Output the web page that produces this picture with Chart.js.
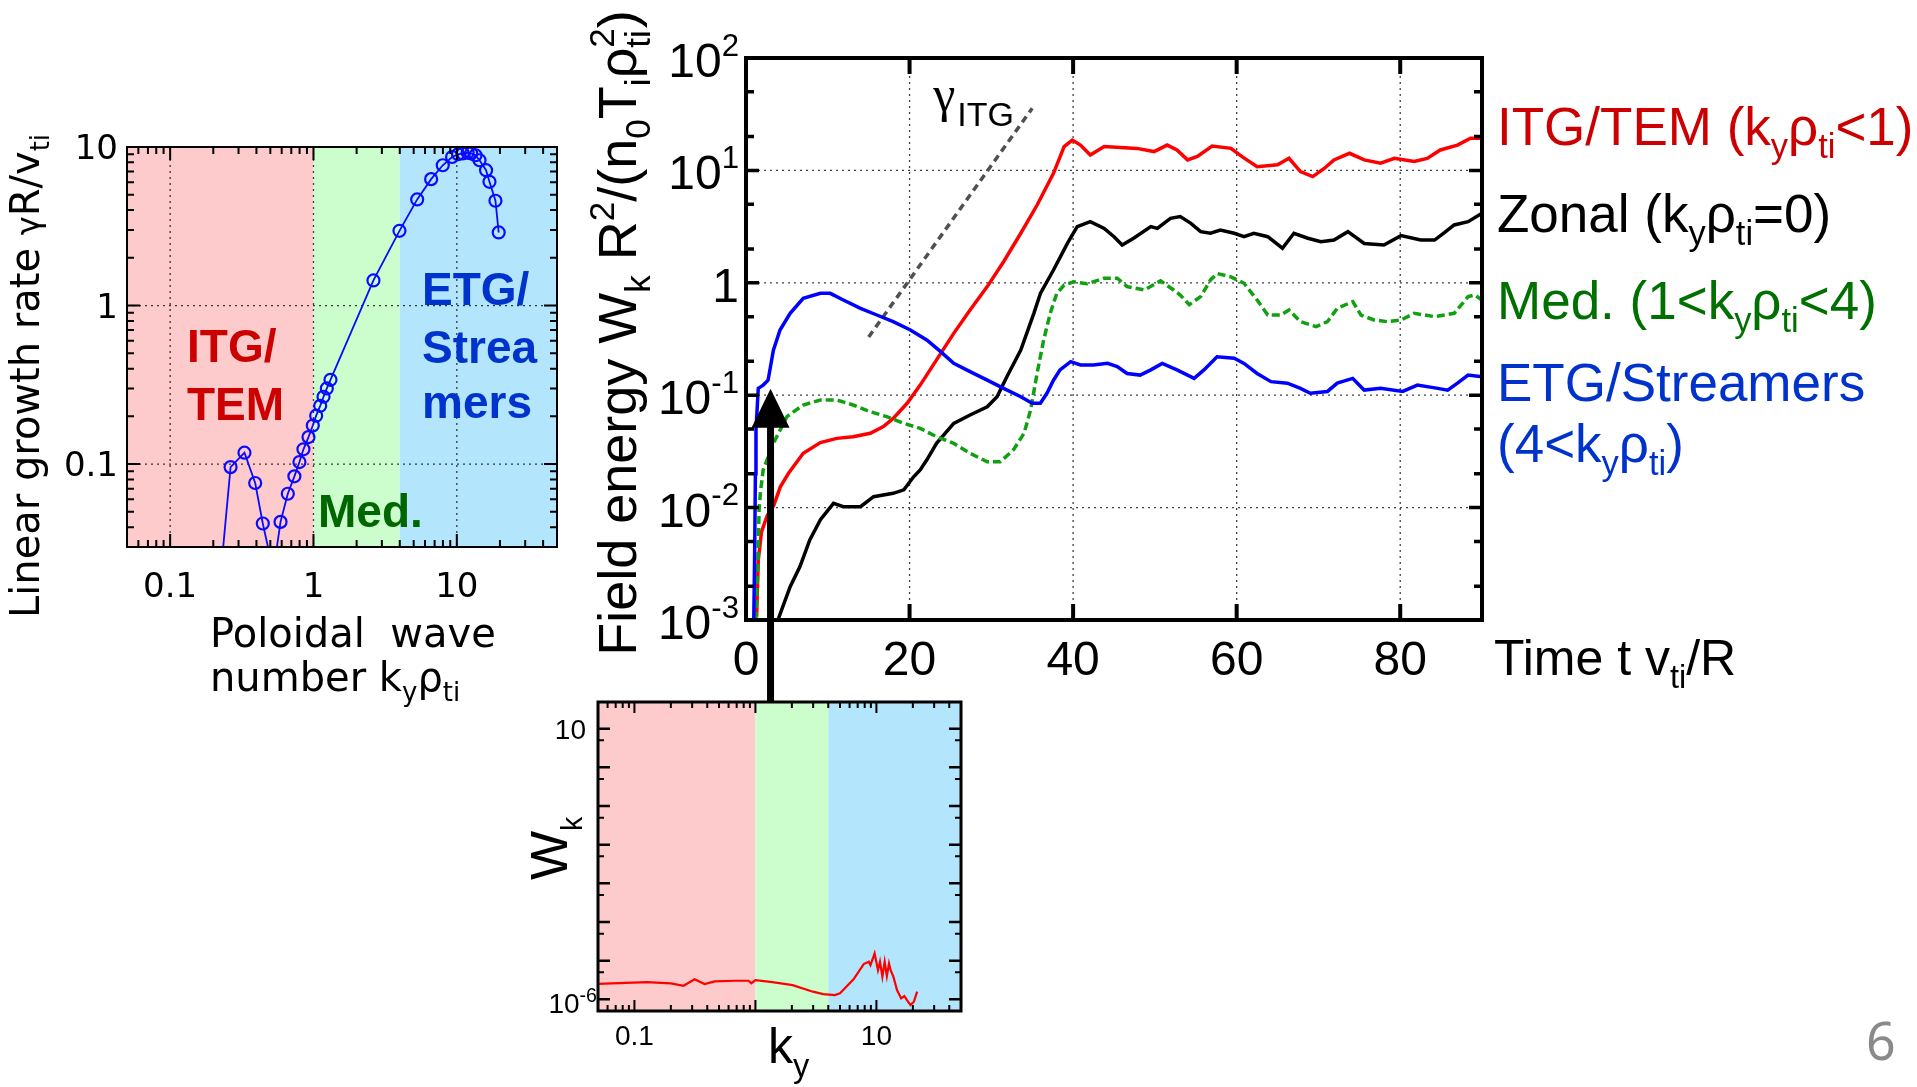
<!DOCTYPE html>
<html>
<head>
<meta charset="utf-8">
<title>Field energy and growth rate spectra</title>
<script src="https://cdn.jsdelivr.net/npm/chart.js@4.4.1/dist/chart.umd.min.js"></script>
<style>
  html, body { margin: 0; padding: 0; background: #fff; }
  body { position: relative; width: 1917px; height: 1087px; overflow: hidden; }
  canvas { position: absolute; }
  #growth { left: 0; top: 90px; }
  #spectrum { left: 500px; top: 690px; }
  #energy { left: 570px; top: 0; }
  #pageNo { position: absolute; left: 1866px; top: 1014px; font: 52px "Noto Sans"; line-height: 52px; color: #8a8a8a; }
</style>
</head>
<body>
<canvas id="growth" width="600" height="640"></canvas>
<canvas id="spectrum" width="500" height="397"></canvas>
<canvas id="energy" width="1347" height="720"></canvas>
<div id="pageNo">6</div>
<script>
// ---- data ----

// left panel: linear growth rate vs k_y rho_ti
const growthKy = [0.225, 0.264, 0.330, 0.392, 0.443, 0.525, 0.589, 0.662, 0.736, 0.798,
  0.851, 0.923, 0.989, 1.044, 1.114, 1.175, 1.239, 1.314, 2.62, 3.98,
  5.29, 6.62, 7.98, 9.27, 10.2, 11.0, 11.9, 12.6, 13.5, 14.4,
  16.0, 16.9, 18.6, 19.6];
const growthRate = [0.020, 0.0957, 0.118, 0.076, 0.0422, 0.021, 0.0432, 0.065, 0.0837, 0.103,
  0.124, 0.148, 0.175, 0.202, 0.233, 0.266, 0.300, 0.340, 1.44, 2.96,
  4.67, 6.27, 7.67, 8.65, 9.0, 9.1, 9.2, 9.1, 8.87, 8.25,
  7.14, 6.03, 4.58, 2.89];

// regime boundaries in k_y rho_ti (ITG/TEM | Med. | ETG/Streamers)
const regimeEdges = [0.05, 1, 4, 50];

// main panel: field energy vs time, [t v_ti/R, W_k]
const itgTem = [[1.3, 0.00107], [1.5, 0.0034], [1.9, 0.0061], [2.6, 0.0085], [3.4, 0.0105], [4.2, 0.0153],
  [5.2, 0.0202], [7.0, 0.0304], [9.1, 0.0379], [11.1, 0.0413], [13.1, 0.0427], [15.2, 0.0458],
  [16.8, 0.0525], [18.0, 0.0622], [19.7, 0.0847], [21.3, 0.123], [23.3, 0.206], [25.4, 0.355],
  [27.4, 0.573], [29.5, 0.925], [31.5, 1.54], [33.6, 2.76], [35.6, 4.92], [37.6, 9.42],
  [38.9, 16.3], [39.9, 18.6], [40.9, 16.8], [42.1, 13.7], [43.8, 16.3], [45.8, 16.0],
  [47.8, 15.7], [49.9, 14.7], [51.5, 16.8], [52.7, 15.2], [54.0, 12.4], [55.2, 13.3],
  [57.0, 16.5], [59.3, 15.7], [60.7, 13.2], [62.5, 10.8], [65.0, 11.2], [66.4, 12.8],
  [67.8, 9.75], [69.3, 8.8], [70.7, 10.4], [71.9, 12.4], [73.8, 14.2], [75.6, 12.4],
  [77.6, 11.6], [79.3, 12.8], [81.7, 12.0], [83.3, 12.8], [84.9, 15.2], [87.0, 16.8],
  [88.6, 19.3], [90, 19.3]];
const zonal = [[3.9, 0.001], [5.4, 0.00198], [6.6, 0.00299], [7.8, 0.00515], [9.1, 0.0078], [10.7, 0.0109],
  [11.9, 0.0102], [14.0, 0.0102], [15.6, 0.0125], [18.0, 0.0134], [19.3, 0.0144], [20.5, 0.0188],
  [21.3, 0.0216], [22.1, 0.0265], [23.3, 0.0373], [25.4, 0.0562], [27.4, 0.0667], [29.5, 0.079],
  [30.7, 0.097], [31.9, 0.146], [33.6, 0.252], [35.2, 0.535], [36.0, 0.805], [37.6, 1.30],
  [39.3, 2.24], [40.5, 3.16], [42.1, 3.5], [43.8, 3.05], [45.0, 2.57], [46.0, 2.17],
  [47.4, 2.49], [49.5, 3.16], [50.3, 3.05], [51.9, 3.75], [53.1, 3.88], [54.4, 3.38],
  [55.6, 2.85], [56.8, 2.76], [58.0, 2.95], [59.7, 2.76], [60.9, 2.57], [62.1, 2.76],
  [63.8, 2.57], [65.6, 2.03], [67.0, 2.76], [68.7, 2.49], [70.3, 2.32], [71.9, 2.40],
  [73.6, 2.85], [75.6, 2.24], [78.0, 2.17], [80.1, 2.63], [82.5, 2.40], [84.2, 2.40],
  [85.4, 2.79], [86.6, 3.27], [88.3, 3.5], [90, 4.15]];
const medium = [[1.2, 0.001], [1.45, 0.003], [1.6, 0.0095], [1.75, 0.0134], [2.1, 0.0216], [3.35, 0.0373],
  [5.0, 0.0645], [7.0, 0.0818], [9.1, 0.0906], [11.1, 0.0906], [13.1, 0.0818], [15.2, 0.0713],
  [17.2, 0.0645], [19.3, 0.0562], [21.3, 0.0507], [23.3, 0.0427], [25.4, 0.0373], [27.4, 0.0304],
  [29.5, 0.0256], [31.1, 0.0256], [32.7, 0.0326], [34.0, 0.0458], [34.8, 0.0738], [35.6, 0.157],
  [36.4, 0.31], [37.2, 0.535], [38.0, 0.805], [38.9, 0.955], [40.1, 1.02], [41.7, 0.98],
  [43.8, 1.10], [45.4, 1.10], [46.6, 0.925], [48.7, 0.863], [50.7, 1.04], [52.3, 0.863],
  [53.1, 0.778], [54.2, 0.64], [55.6, 0.753], [56.8, 1.06], [57.6, 1.21], [59.3, 1.13],
  [60.9, 0.99], [62.5, 0.703], [63.8, 0.516], [65.4, 0.516], [66.4, 0.573], [67.8, 0.451],
  [69.7, 0.407], [71.1, 0.451], [72.3, 0.593], [74.2, 0.68], [75.2, 0.516], [76.8, 0.467],
  [78.4, 0.451], [80.1, 0.467], [81.7, 0.535], [84.2, 0.5], [86.6, 0.535], [88.3, 0.753],
  [89.1, 0.78], [90, 0.703]];
const etgStreamers = [[0.95, 0.001], [1.05, 0.0034], [1.15, 0.02], [1.22, 0.049], [1.5, 0.115], [2.1, 0.123],
  [2.7, 0.136], [3.35, 0.252], [4.16, 0.38], [5.4, 0.535], [7.0, 0.728], [9.1, 0.806],
  [10.3, 0.806], [11.9, 0.703], [14.0, 0.593], [16.0, 0.517], [18.0, 0.451], [20.1, 0.38],
  [22.1, 0.31], [23.8, 0.244], [25.4, 0.192], [27.4, 0.162], [29.5, 0.136], [31.5, 0.115],
  [33.6, 0.097], [35.0, 0.0847], [36.0, 0.0847], [36.8, 0.104], [37.6, 0.136], [38.4, 0.168],
  [39.7, 0.199], [40.9, 0.186], [42.5, 0.186], [44.2, 0.192], [45.4, 0.18], [46.6, 0.156],
  [48.2, 0.151], [49.5, 0.168], [50.9, 0.192], [52.7, 0.168], [54.8, 0.141], [56.0, 0.168],
  [57.6, 0.22], [59.7, 0.213], [60.9, 0.192], [62.5, 0.156], [64.2, 0.132], [66.2, 0.128],
  [67.8, 0.115], [69.0, 0.104], [71.1, 0.108], [72.3, 0.128], [74.2, 0.141], [75.6, 0.111],
  [77.6, 0.115], [80.3, 0.108], [82.1, 0.123], [84.6, 0.115], [85.8, 0.111], [87.0, 0.128],
  [88.3, 0.151], [90, 0.146]];
// ITG growth-rate guide line
const itgSlope = [[15, 0.33], [35, 35.7]];

// bottom panel: W_k spectrum vs k_y at early time
const earlySpectrum = [[0.048, 2.49e-6], [0.127, 2.8e-6], [0.2, 2.59e-6], [0.255, 2.25e-6], [0.314, 3.29e-6],
  [0.38, 2.49e-6], [0.461, 2.92e-6], [0.679, 3.03e-6], [0.879, 3.03e-6], [0.925, 2.59e-6],
  [1.0, 3.16e-6], [1.38, 2.8e-6], [2.03, 2.34e-6], [2.99, 1.58e-6], [3.63, 1.37e-6],
  [4.54, 1.29e-6], [5.0, 1.43e-6], [6.47, 3.29e-6], [7.85, 8.19e-6], [8.65, 9.4e-6],
  [8.93, 7.7e-6], [9.66, 1.55e-5], [10.3, 5.7e-6], [10.7, 9.4e-6], [11.2, 3.86e-6],
  [11.7, 9.4e-6], [12.2, 4.0e-6], [12.7, 8.5e-6], [13.1, 5.7e-6], [13.8, 3.86e-6],
  [14.8, 1.74e-6], [16.0, 1.06e-6], [17.0, 1.22e-6], [19.1, 7.1e-7], [20.4, 8.7e-7], [21.7, 1.58e-6]];

// ---- styling ----
const SANS = '"Liberation Sans", Arial, sans-serif';
const WIDE = '"DejaVu Sans", Verdana, sans-serif';
const SERIF = '"Liberation Serif", serif';
const regimeFill = ['#fdcbcb', '#ccfdcc', '#b3e5fd'];
const RED_TXT = '#cc0000', BLUE_TXT = '#0033cc', GREEN_TXT = '#007000';

const pts = arr => arr.map(p => ({ x: p[0], y: p[1] }));

// text with sub/superscripts; parts: 'text' or [text, 'b'|'bs'|'p'|'s']
function rich(ctx, parts, x, y, o) {
  const size = o.size, fam = o.family || SANS, wt = o.weight || 'normal';
  const small = size * (o.script || 0.65);
  const items = parts.map(p => Array.isArray(p) ? { t: p[0], k: p[1] } : { t: p, k: '' });
  items.forEach(it => {
    it.s = it.k === 's' ? size * 0.8 : it.k ? small : size;
    ctx.font = `${wt} ${it.s}px ${fam}`;
    it.m = ctx.measureText(it.t).width;
    it.adv = it.m;
  });
  items.forEach((it, i) => {
    if (it.k === 'bs' && items[i + 1]) { it.adv = 0; items[i + 1].adv = Math.max(items[i + 1].m, it.m); }
  });
  const total = items.reduce((s, it) => s + it.adv, 0);
  let cx = o.align === 'center' ? -total / 2 : o.align === 'right' ? -total : 0;
  ctx.save();
  ctx.translate(x, y);
  if (o.angle) ctx.rotate(o.angle);
  ctx.fillStyle = o.color || '#000';
  ctx.textAlign = 'left';
  ctx.textBaseline = 'alphabetic';
  items.forEach(it => {
    ctx.font = `${wt} ${it.s}px ${fam}`;
    let dy = 0;
    if (it.k === 'b' || it.k === 'bs') dy = size * (o.sub || 0.25);
    if (it.k === 'p') dy = -size * (o.sup || 0.4);
    ctx.fillText(it.t, cx, dy);
    cx += it.adv;
  });
  ctx.restore();
}

function logValues(min, max, mults) {
  const out = [];
  for (let e = Math.floor(Math.log10(min)); e <= Math.ceil(Math.log10(max)); e++) {
    mults.forEach(m => {
      const v = m * Math.pow(10, e);
      if (v >= min * 1.0001 && v <= max * 0.9999) out.push(v);
    });
  }
  return out;
}

function dottedGrid(ctx, a, xs, ys, lw, dash, color) {
  ctx.save();
  ctx.strokeStyle = color || 'rgba(0,0,0,0.75)';
  ctx.lineWidth = lw;
  ctx.setLineDash(dash);
  ctx.beginPath();
  xs.forEach(px => { ctx.moveTo(px, a.top); ctx.lineTo(px, a.bottom); });
  ys.forEach(py => { ctx.moveTo(a.left, py); ctx.lineTo(a.right, py); });
  ctx.stroke();
  ctx.restore();
}

function ticksX(ctx, a, pxs, len, lw) {
  ctx.lineWidth = lw;
  ctx.beginPath();
  pxs.forEach(px => {
    ctx.moveTo(px, a.bottom); ctx.lineTo(px, a.bottom - len);
    ctx.moveTo(px, a.top); ctx.lineTo(px, a.top + len);
  });
  ctx.stroke();
}

function ticksY(ctx, a, pys, len, lw) {
  ctx.lineWidth = lw;
  ctx.beginPath();
  pys.forEach(py => {
    ctx.moveTo(a.left, py); ctx.lineTo(a.left + len, py);
    ctx.moveTo(a.right, py); ctx.lineTo(a.right - len, py);
  });
  ctx.stroke();
}

function regimeBands(ctx, a, x) {
  regimeFill.forEach((c, i) => {
    const x0 = x.getPixelForValue(regimeEdges[i]);
    const x1 = x.getPixelForValue(regimeEdges[i + 1]);
    ctx.fillStyle = c;
    ctx.fillRect(x0, a.top, x1 - x0, a.bottom - a.top);
  });
}

const baseOptions = {
  responsive: false,
  animation: false,
  events: [],
  plugins: { legend: { display: false }, tooltip: { enabled: false } }
};

// ---- left panel: growth rate ----
const growthFrame = {
  id: 'growthFrame',
  beforeDatasetsDraw(chart) {
    const { ctx, chartArea: a, scales: { x, y } } = chart;
    ctx.save();
    regimeBands(ctx, a, x);
    dottedGrid(ctx, a, [0.1, 1, 10].map(v => x.getPixelForValue(v)), [0.1, 1].map(v => y.getPixelForValue(v)), 1.3, [2, 4]);
    const big = { size: 46, weight: 'bold', family: SANS };
    rich(ctx, ['ITG/'], a.left + 60, a.top + 215, { ...big, color: RED_TXT });
    rich(ctx, ['TEM'], a.left + 60, a.top + 273, { ...big, color: RED_TXT });
    rich(ctx, ['ETG/'], a.left + 295, a.top + 158, { ...big, color: BLUE_TXT });
    rich(ctx, ['Strea'], a.left + 295, a.top + 216, { ...big, color: BLUE_TXT });
    rich(ctx, ['mers'], a.left + 295, a.top + 271, { ...big, color: BLUE_TXT });
    rich(ctx, ['Med.'], a.left + 191, a.top + 380, { ...big, color: '#006600' });
    ctx.restore();
  },
  afterDatasetsDraw(chart) {
    const { ctx, chartArea: a, scales: { x, y } } = chart;
    ctx.save();
    ctx.strokeStyle = '#000';
    ticksX(ctx, a, logValues(0.05, 50, [2, 3, 4, 5, 6, 7, 8, 9]).map(v => x.getPixelForValue(v)), 7, 2);
    ticksX(ctx, a, [0.1, 1, 10].map(v => x.getPixelForValue(v)), 13, 2);
    ticksY(ctx, a, logValues(0.03, 10, [2, 3, 4, 5, 6, 7, 8, 9]).map(v => y.getPixelForValue(v)), 7, 2);
    ticksY(ctx, a, [0.1, 1].map(v => y.getPixelForValue(v)), 13, 2);
    ctx.lineWidth = 2;
    ctx.strokeRect(a.left, a.top, a.right - a.left, a.bottom - a.top);
    ['0.1', '1', '10'].forEach(s => {
      rich(ctx, [s], x.getPixelForValue(Number(s)), a.bottom + 50, { size: 34, family: WIDE, align: 'center' });
    });
    ['0.1', '1', '10'].forEach(s => {
      rich(ctx, [s], a.left - 9, y.getPixelForValue(Number(s)) + 12, { size: 34, family: WIDE, align: 'right' });
    });
    rich(ctx, ['Linear growth rate ', ['γ', 's'], 'R/v', ['ti', 'b']], a.left - 88, 286,
      { size: 40, family: WIDE, align: 'center', angle: -Math.PI / 2 });
    rich(ctx, ['Poloidal  wave'], a.left + 83, a.bottom + 100, { size: 40, family: WIDE });
    rich(ctx, ['number k', ['y', 'b'], 'ρ', ['ti', 'b']], a.left + 83, a.bottom + 144, { size: 40, family: WIDE });
    ctx.restore();
  }
};

new Chart(document.getElementById('growth'), {
  type: 'line',
  data: {
    datasets: [{
      data: growthKy.map((k, i) => ({ x: k, y: growthRate[i] })),
      borderColor: '#0a0aff',
      borderWidth: 1.8,
      pointRadius: 6,
      pointBorderWidth: 2.2,
      pointBackgroundColor: 'rgba(0,0,0,0)',
      pointBorderColor: '#0a0aff',
      pointStyle: 'circle'
    }]
  },
  options: {
    ...baseOptions,
    layout: { padding: { left: 127, top: 57, right: 43, bottom: 183 } },
    scales: {
      x: { type: 'logarithmic', min: 0.05, max: 50, display: false },
      y: { type: 'logarithmic', min: 0.03, max: 10, display: false }
    }
  },
  plugins: [growthFrame]
});

// ---- bottom panel: W_k spectrum ----
const spectrumFrame = {
  id: 'spectrumFrame',
  beforeDatasetsDraw(chart) {
    const { ctx, chartArea: a, scales: { x } } = chart;
    ctx.save();
    regimeBands(ctx, a, x);
    ctx.restore();
  },
  afterDatasetsDraw(chart) {
    const { ctx, chartArea: a, scales: { x, y } } = chart;
    ctx.save();
    ctx.strokeStyle = '#000';
    ticksX(ctx, a, logValues(0.05, 50, [2, 3, 4, 5, 6, 7, 8, 9]).map(v => x.getPixelForValue(v)), 6, 2);
    ticksX(ctx, a, logValues(0.05, 50, [1]).map(v => x.getPixelForValue(v)), 11, 2);
    ticksY(ctx, a, logValues(5e-7, 49, [1]).map(v => y.getPixelForValue(v)), 12, 2.5);
    ticksY(ctx, a, logValues(5e-7, 49, [5]).map(v => y.getPixelForValue(v)), 6, 2);
    ctx.lineWidth = 3;
    ctx.strokeRect(a.left, a.top, a.right - a.left, a.bottom - a.top);
    rich(ctx, ['0.1'], x.getPixelForValue(0.1), a.bottom + 34, { size: 28, align: 'center' });
    rich(ctx, ['10'], x.getPixelForValue(10), a.bottom + 34, { size: 28, align: 'center' });
    rich(ctx, ['10'], a.left - 12, y.getPixelForValue(10) + 10, { size: 28, align: 'right' });
    rich(ctx, ['10', ['-6', 'p']], a.left - 1, y.getPixelForValue(1e-6) + 14, { size: 28, align: 'right', sup: 0.4, script: 0.7 });
    rich(ctx, ['k', ['y', 'b']], a.left + 170, a.bottom + 52, { size: 50, sub: 0.28 });
    rich(ctx, ['W', ['k', 'b']], a.left - 31, a.top + 178, { size: 52, angle: -Math.PI / 2, sub: 0.28, script: 0.55 });
    ctx.restore();
  }
};

new Chart(document.getElementById('spectrum'), {
  type: 'line',
  data: {
    datasets: [{
      data: pts(earlySpectrum),
      borderColor: '#ff0000',
      borderWidth: 2.2,
      pointRadius: 0
    }]
  },
  options: {
    ...baseOptions,
    layout: { padding: { left: 98, top: 12, right: 39, bottom: 76 } },
    scales: {
      x: { type: 'logarithmic', min: 0.05, max: 50, display: false },
      y: { type: 'logarithmic', min: 5e-7, max: 49, display: false }
    }
  },
  plugins: [spectrumFrame]
});

// ---- main panel: field energy vs time ----
const timeTicks = [0, 20, 40, 60, 80];
const energyDecades = [-3, -2, -1, 0, 1, 2];

const energyFrame = {
  id: 'energyFrame',
  beforeDatasetsDraw(chart) {
    const { ctx, chartArea: a, scales: { x, y } } = chart;
    dottedGrid(ctx, a, [20, 40, 60, 80].map(v => x.getPixelForValue(v)),
      [-2, -1, 0, 1].map(e => y.getPixelForValue(Math.pow(10, e))), 1.3, [2, 4]);
  },
  afterDatasetsDraw(chart) {
    const { ctx, chartArea: a, scales: { x, y } } = chart;
    ctx.save();
    ctx.strokeStyle = '#000';
    ticksX(ctx, a, [20, 40, 60, 80].map(v => x.getPixelForValue(v)), 16, 4);
    ticksY(ctx, a, logValues(1e-3, 100, [2, 5]).map(v => y.getPixelForValue(v)), 8, 3.5);
    ticksY(ctx, a, logValues(1e-3, 100, [1]).map(v => y.getPixelForValue(v)), 13, 3.5);
    ctx.lineWidth = 4;
    ctx.strokeRect(a.left, a.top, a.right - a.left, a.bottom - a.top);

    timeTicks.forEach(t => rich(ctx, [String(t)], x.getPixelForValue(t), a.bottom + 55, { size: 48, align: 'center' }));
    energyDecades.forEach(e => {
      const py = y.getPixelForValue(Math.pow(10, e));
      const parts = e === 0 ? ['1'] : ['10', [String(e), 'p']];
      rich(ctx, parts, a.left - 7, py + 19, { size: 48, align: 'right', sup: 0.44 });
    });
    rich(ctx, ['Time t v', ['ti', 'b'], '/R'], a.right + 12, a.bottom + 55, { size: 50 });
    rich(ctx, ['Field energy W', ['k', 'b'], ' R', ['2', 'p'], '/(n', ['0', 'b'], 'T', ['i', 'b'], 'ρ', ['ti', 'bs'], ['2', 'p'], ')'],
      66, 333, { size: 54, align: 'center', angle: -Math.PI / 2 });

    // legend
    const lx = a.right + 15;
    rich(ctx, ['ITG/TEM (k', ['y', 'b'], 'ρ', ['ti', 'b'], '<1)'], lx, 145, { size: 53, color: RED_TXT });
    rich(ctx, ['Zonal (k', ['y', 'b'], 'ρ', ['ti', 'b'], '=0)'], lx, 232, { size: 53, color: '#000' });
    rich(ctx, ['Med. (1<k', ['y', 'b'], 'ρ', ['ti', 'b'], '<4)'], lx, 319, { size: 53, color: GREEN_TXT });
    rich(ctx, ['ETG/Streamers'], lx, 401, { size: 53, color: BLUE_TXT });
    rich(ctx, ['(4<k', ['y', 'b'], 'ρ', ['ti', 'b'], ')'], lx, 462, { size: 53, color: BLUE_TXT });

    // gamma_ITG label
    const gx = x.getPixelForValue(22.9), gy = y.getPixelForValue(34);
    rich(ctx, ['γ'], gx, gy, { size: 50, family: SERIF });
    rich(ctx, ['ITG'], gx + 24, gy + 15, { size: 34 });

    // arrow marking the time of the spectrum below
    const ax = x.getPixelForValue(3);
    const tip = y.getPixelForValue(0.114);
    ctx.fillStyle = '#000';
    ctx.fillRect(ax - 3.5, tip + 30, 7, 703 - tip - 30);
    ctx.beginPath();
    ctx.moveTo(ax, tip);
    ctx.lineTo(ax - 19, tip + 39);
    ctx.lineTo(ax + 19, tip + 39);
    ctx.closePath();
    ctx.fill();
    ctx.restore();
  }
};

new Chart(document.getElementById('energy'), {
  type: 'line',
  data: {
    datasets: [
      { data: pts(etgStreamers), borderColor: '#0000ff', borderWidth: 3.5, pointRadius: 0 },
      { data: pts(medium), borderColor: '#10a010', borderWidth: 3.5, borderDash: [8, 4], pointRadius: 0 },
      { data: pts(zonal), borderColor: '#000000', borderWidth: 3.5, pointRadius: 0 },
      { data: pts(itgTem), borderColor: '#ff0000', borderWidth: 3.5, pointRadius: 0 },
      { data: pts(itgSlope), borderColor: '#505050', borderWidth: 3.5, borderDash: [7, 5], pointRadius: 0 }
    ]
  },
  options: {
    ...baseOptions,
    layout: { padding: { left: 176, top: 58, right: 435, bottom: 100 } },
    scales: {
      x: { type: 'linear', min: 0, max: 90, display: false },
      y: { type: 'logarithmic', min: 1e-3, max: 100, display: false }
    }
  },
  plugins: [energyFrame]
});
</script>
</body>
</html>
